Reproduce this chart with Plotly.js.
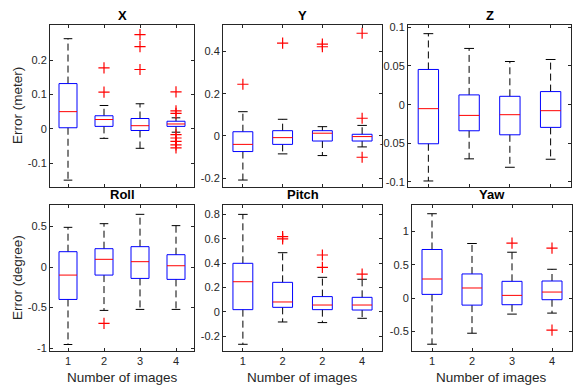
<!DOCTYPE html>
<html>
<head>
<meta charset="utf-8">
<script src="https://cdn.plot.ly/plotly-3.0.1.min.js"></script>
<style>
  html, body { margin: 0; padding: 0; background: #fff; }
  #graph { width: 586px; height: 391px; }
</style>
</head>
<body>
<div id="graph"></div>
<script>
// groups on the x axis
var groups = [1, 2, 3, 4];
var groupLabels = ['1', '2', '3', '4'];
var pitchLabels = ['1', '2', '2', '4']; // as printed in the original

// box stats per group: [lower whisker, q1, median, q3, upper whisker]
var statsX = [[-0.150, 0.003, 0.050, 0.132, 0.263], [-0.028, 0.007, 0.027, 0.038, 0.068], [-0.057, -0.005, 0.009, 0.030, 0.073], [-0.010, 0.007, 0.014, 0.022, 0.032]];
var statsY = [[-0.209, -0.074, -0.040, 0.020, 0.115], [-0.085, -0.040, -0.008, 0.025, 0.079], [-0.093, -0.024, 0.013, 0.025, 0.044], [-0.052, -0.024, -0.003, 0.008, 0.050]];
var statsZ = [[-0.0987, -0.0506, -0.0052, 0.0455, 0.0918], [-0.0701, -0.0338, -0.0139, 0.0126, 0.0727], [-0.0810, -0.0390, -0.0130, 0.0108, 0.0558], [-0.0706, -0.0294, -0.0078, 0.0169, 0.0584]];
var statsRoll = [[-0.954, -0.399, -0.099, 0.189, 0.489], [-0.534, -0.099, 0.095, 0.226, 0.534], [-0.522, -0.140, 0.066, 0.251, 0.649], [-0.522, -0.152, 0.016, 0.152, 0.510]];
var statsPitch = [[-0.265, 0.019, 0.248, 0.399, 0.800], [-0.082, 0.038, 0.082, 0.243, 0.486], [-0.087, 0.019, 0.057, 0.126, 0.284], [-0.052, 0.016, 0.057, 0.120, 0.268]];
var statsYaw = [[-0.693, 0.055, 0.286, 0.729, 1.266], [-0.528, -0.106, 0.151, 0.362, 0.819], [-0.241, -0.100, 0.040, 0.251, 0.688], [-0.226, -0.025, 0.090, 0.256, 0.432]];

// outliers: [group, value]
var outX = [[2, 0.178], [2, 0.107], [3, 0.275], [3, 0.240], [3, 0.173], [4, 0.108], [4, 0.052], [4, 0.045], [4, -0.017], [4, -0.027], [4, -0.037], [4, -0.047], [4, -0.056]];
var outY = [[1, 0.245], [2, 0.440], [3, 0.435], [3, 0.423], [4, 0.487], [4, 0.084], [4, -0.101]];
var outZ = [];
var outRoll = [[2, -0.695]];
var outPitch = [[2, 0.617], [2, 0.600], [3, 0.467], [3, 0.366], [4, 0.310]];
var outYaw = [[3, 0.824], [4, 0.749], [4, -0.482]];

// y ticks
var ticksX = [-0.1, 0, 0.1, 0.2];
var ticksY = [-0.2, 0, 0.2, 0.4];
var ticksZ = [-0.1, -0.05, 0, 0.05, 0.1];
var ticksRoll = [-1, -0.5, 0, 0.5];
var ticksPitch = [-0.2, 0, 0.2, 0.4, 0.6, 0.8];
var ticksYaw = [-0.5, 0, 0.5, 1];

var W = 586, H = 391;
var BOX_HW = 0.25, CAP_HW = 0.12;
var FONT = 'Liberation Sans, Arial, sans-serif';
var AX_COLOR = '#262626';

// panel frames in pixels: [left, top, right, bottom]
var panels = [
    {title: 'X', stats: statsX, out: outX, ticks: ticksX, range: [-0.170, 0.303], px: [50, 25, 194, 187], labels: groupLabels},
    {title: 'Y', stats: statsY, out: outY, ticks: ticksY, range: [-0.242, 0.526], px: [223, 25, 382, 187], labels: groupLabels},
    {title: 'Z', stats: statsZ, out: outZ, ticks: ticksZ, range: [-0.1065, 0.103], px: [408, 25, 571, 187], labels: groupLabels},
    {title: 'Roll', stats: statsRoll, out: outRoll, ticks: ticksRoll, range: [-1.034, 0.764], px: [50, 205, 194, 351], labels: groupLabels},
    {title: 'Pitch', stats: statsPitch, out: outPitch, ticks: ticksPitch, range: [-0.32, 0.877], px: [223, 205, 382, 351], labels: pitchLabels},
    {title: 'Yaw', stats: statsYaw, out: outYaw, ticks: ticksYaw, range: [-0.795, 1.397], px: [412, 205, 572, 351], labels: groupLabels}
];

function fmt(v) { return String(v); } // keep plain hyphen minus

var data = [];
var layout = {
    width: W, height: H,
    margin: {l: 0, r: 0, t: 0, b: 0},
    paper_bgcolor: '#fff', plot_bgcolor: '#fff',
    showlegend: false,
    font: {family: FONT, color: AX_COLOR, size: 11},
    annotations: []
};

panels.forEach(function(p, i) {
    var n = i === 0 ? '' : String(i + 1);
    var xa = 'x' + n, ya = 'y' + n;
    var bx = [], by = [], mx = [], my = [], wx = [], wy = [], cx = [], cy = [];
    p.stats.forEach(function(s, j) {
        var g = groups[j];
        // box
        bx.push(g - BOX_HW, g + BOX_HW, g + BOX_HW, g - BOX_HW, g - BOX_HW, null);
        by.push(s[1], s[1], s[3], s[3], s[1], null);
        // median
        mx.push(g - BOX_HW, g + BOX_HW, null);
        my.push(s[2], s[2], null);
        // whiskers
        wx.push(g, g, null, g, g, null);
        wy.push(s[3], s[4], null, s[1], s[0], null);
        // caps
        cx.push(g - CAP_HW, g + CAP_HW, null, g - CAP_HW, g + CAP_HW, null);
        cy.push(s[4], s[4], null, s[0], s[0], null);
    });
    data.push({x: wx, y: wy, xaxis: xa, yaxis: ya, mode: 'lines', type: 'scatter', hoverinfo: 'skip',
        line: {color: '#000', width: 1, dash: '7px,4px'}});
    data.push({x: cx, y: cy, xaxis: xa, yaxis: ya, mode: 'lines', type: 'scatter', hoverinfo: 'skip',
        line: {color: '#000', width: 1}});
    data.push({x: bx, y: by, xaxis: xa, yaxis: ya, mode: 'lines', type: 'scatter', hoverinfo: 'skip',
        line: {color: '#0000ff', width: 1}});
    data.push({x: mx, y: my, xaxis: xa, yaxis: ya, mode: 'lines', type: 'scatter', hoverinfo: 'skip',
        line: {color: '#ff0000', width: 1}});
    if (p.out.length) {
        data.push({x: p.out.map(function(o) { return o[0]; }), y: p.out.map(function(o) { return o[1]; }),
            xaxis: xa, yaxis: ya, mode: 'markers', type: 'scatter', hoverinfo: 'skip',
            marker: {symbol: 'cross-thin', size: 8, line: {color: '#ff0000', width: 1.2}}});
    }

    var L = p.px[0], T = p.px[1], R = p.px[2], B = p.px[3];
    var common = {
        showline: true, linecolor: AX_COLOR, linewidth: 1, mirror: 'allticks',
        ticks: 'inside', ticklen: 3, tickcolor: AX_COLOR, tickwidth: 1,
        showgrid: false, zeroline: false, fixedrange: true,
        tickfont: {family: FONT, size: 11, color: AX_COLOR}
    };
    layout['xaxis' + n] = Object.assign({}, common, {
        domain: [L / W, R / W], anchor: ya, range: [0.5, 4.5],
        tickmode: 'array', tickvals: groups, ticktext: p.labels,
        showticklabels: i >= 3
    });
    layout['yaxis' + n] = Object.assign({}, common, {
        domain: [1 - B / H, 1 - T / H], anchor: xa, range: p.range,
        tickmode: 'array', tickvals: p.ticks, ticktext: p.ticks.map(fmt)
    });
    layout.annotations.push({
        text: '<b>' + p.title + '</b>', xref: 'paper', yref: 'paper',
        x: (L + R) / 2 / W, y: 1 - (T - 0.5) / H, xanchor: 'center', yanchor: 'bottom',
        showarrow: false, font: {family: FONT, size: 13, color: '#000'}
    });
    if (i >= 3) {
        layout.annotations.push({
            text: 'Number of images', xref: 'paper', yref: 'paper',
            x: (L + R) / 2 / W, y: 1 - 368 / H, xanchor: 'center', yanchor: 'top',
            showarrow: false, font: {family: FONT, size: 13.5, color: AX_COLOR}
        });
    }
    if (i === 0 || i === 3) {
        layout.annotations.push({
            text: i === 0 ? 'Error (meter)' : 'Error (degree)', xref: 'paper', yref: 'paper',
            x: 17 / W, y: 1 - (T + B) / 2 / H, xanchor: 'center', yanchor: 'middle', textangle: -90,
            showarrow: false, font: {family: FONT, size: 13.5, color: AX_COLOR}
        });
    }
});

Plotly.newPlot('graph', data, layout, {staticPlot: true, displayModeBar: false});
</script>
</body>
</html>
